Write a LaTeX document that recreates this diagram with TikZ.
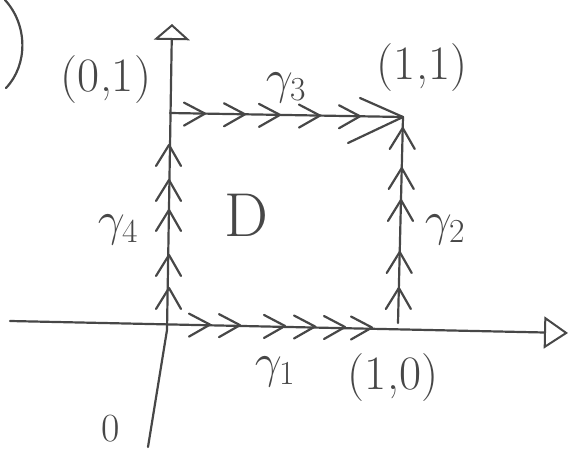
\documentclass[tikz,border=0pt]{standalone}
\usepackage{fix-cm}
\usetikzlibrary{arrows.meta}
\begin{document}
\begin{tikzpicture}[x=1pt,y=-1pt,
  ink/.style={draw=black!72,line width=2.2pt,line cap=round,line join=round},
  lbl/.style={text=black!72,inner sep=0pt,font=\fontsize{48}{56}\selectfont},
  axtip/.style={-{Triangle[open,length=24pt,width=32pt,line width=2pt]}},
  ytip/.style={-{Triangle[open,length=16pt,width=36pt,line width=2pt]}},
  chevright/.pic={\draw[ink] (-21,-11) -- (0,0) -- (-21,12);},
  chevup/.pic={\draw[ink] (-13,21) -- (0,0) -- (12,21);}]
\useasboundingbox (0,0) rectangle (574,450);
% axes
\coordinate (xs) at (10,321);
\coordinate (xe) at (568,333);
\coordinate (ys) at (148,447);
\coordinate (ym) at (167,330);
\coordinate (ye) at (172,24);
\draw[ink,axtip] (xs) -- (xe);
\draw[ink,ytip] (ys) -- (ym) -- (ye);
% square
\coordinate (bl) at (169,324);
\coordinate (tl) at (170,113);
\coordinate (tr) at (403,117);
\coordinate (br) at (398,323);
\draw[ink] (tl) -- (tr) -- (br);
% chevrons top (gamma3)
\foreach \x in {205,245,280,320,360} \pic at (\x,{113+(\x-170)*4/233}) {chevright};
\draw[ink] (360,98) -- (tr) -- (348,143);
% chevrons bottom (gamma1)
\foreach \x in {210,240,285,315,345,372} \pic at (\x,{321+(\x-10)*10/556}) {chevright};
% chevrons left (gamma4)
\foreach \y in {145,180,210,255,288} \pic at (169,\y) {chevup};
% chevrons right (gamma2)
\foreach \y in {128,168,200,252,288} \pic at ({403-(\y-117)*5/206},\y) {chevup};
% labels
\node[lbl] (p01) at (106,80) {(0,1)};
\node[lbl] (p11) at (422,68) {(1,1)};
\node[lbl] (p10) at (393,378) {(1,0)};
\node[lbl] (g3) at (286,88) {$\gamma_{\mathrm{3}}$};
\node[lbl] (g1) at (275,372) {$\gamma_{\mathrm{1}}$};
\node[lbl] (g2) at (445,230) {$\gamma_{\mathrm{2}}$};
\node[lbl] (g4) at (118,230) {$\gamma_{\mathrm{4}}$};
\node[lbl,font=\fontsize{62}{70}\selectfont] (D) at (246,215) {D};
\node[lbl,font=\fontsize{40}{46}\selectfont] (o) at (111,429) {0};
% partial parenthesis at top left
\coordinate (pa) at (5,0);
\coordinate (pb) at (6,88);
\draw[ink] (pa) .. controls (28,25) and (28,65) .. (pb);
\end{tikzpicture}
\end{document}
